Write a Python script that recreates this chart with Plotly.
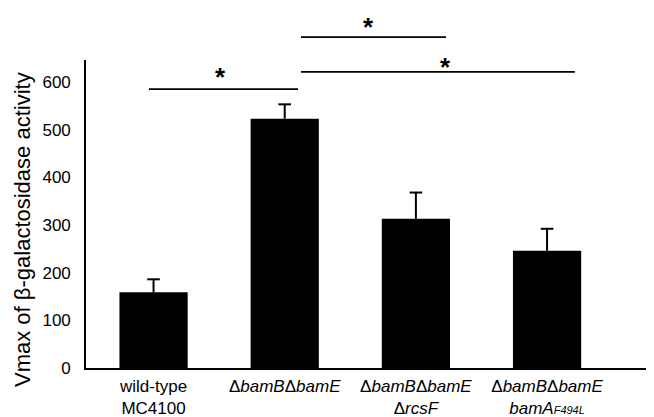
import plotly.graph_objects as go

# ---- data ----
categories = ["wild-type<br>MC4100",
              "Δ<i>bamB</i>Δ<i>bamE</i>",
              "Δ<i>bamB</i>Δ<i>bamE</i><br>Δ<i>rcsF</i>",
              "Δ<i>bamB</i>Δ<i>bamE</i><br><i>bamA<span style='font-size:11px'>F494L</span></i>"]
values = [159, 523, 313, 246]
errors = [27, 30, 55, 46]
y_ticks = [0, 100, 200, 300, 400, 500, 600]

# significance brackets (category positions and values)
sig_start = [-0.035, 1.124, 1.124]
sig_end = [1.101, 2.229, 3.212]
sig_level = [585, 694, 621]
star_x = [0.514, 1.642, 2.229]
star_y = [623, 727, 643]

X_RANGE = [-0.515, 3.80]
Y_RANGE = [0, 646]


def xp(c):
    return (c - X_RANGE[0]) / (X_RANGE[1] - X_RANGE[0])


def yp(v):
    return (v - Y_RANGE[0]) / (Y_RANGE[1] - Y_RANGE[0])


FONT = "Liberation Sans, Arial, sans-serif"
xs = list(range(len(categories)))

fig = go.Figure()
# bars with the upper error stem only
fig.add_trace(go.Bar(
    x=xs,
    y=values,
    width=0.52,
    marker=dict(color="black", line=dict(width=0)),
    error_y=dict(type="data", array=errors, arrayminus=[0] * len(errors),
                 symmetric=False, color="black", thickness=2, width=0),
))
# caps at the top of the error bars
fig.add_trace(go.Scatter(
    x=xs,
    y=[v + e for v, e in zip(values, errors)],
    mode="markers",
    marker=dict(symbol="line-ew", size=9, color="black",
                line=dict(color="black", width=2)),
    hoverinfo="skip",
))

shapes = []
for s, e, lv in zip(sig_start, sig_end, sig_level):
    shapes.append(dict(type="line", xref="paper", yref="paper",
                       x0=xp(s), x1=xp(e), y0=yp(lv), y1=yp(lv),
                       line=dict(color="black", width=1.6)))

annotations = []
for sx, sy in zip(star_x, star_y):
    annotations.append(dict(xref="paper", yref="paper", x=xp(sx), y=yp(sy),
                            text="<b>*</b>", showarrow=False, yshift=-6,
                            xanchor="center", yanchor="middle",
                            font=dict(family=FONT, size=26, color="black")))

annotations.append(dict(xref="paper", yref="paper", x=(22 - 86) / 566, y=(368 - 230) / 308,
                        text="Vmax of β-galactosidase activity", textangle=-90,
                        showarrow=False, xanchor="center", yanchor="middle",
                        font=dict(family=FONT, size=22, color="black")))

# the page body has an 8px margin, so the figure is sized to fit the 654x417 window
fig.update_layout(
    width=646, height=409,
    margin=dict(l=78, r=2, t=52, b=49, autoexpand=False),
    paper_bgcolor="white", plot_bgcolor="white",
    showlegend=False,
    font=dict(family=FONT, color="black"),
    shapes=shapes,
    annotations=annotations,
    xaxis=dict(range=X_RANGE, tickmode="array", tickvals=xs,
               ticktext=categories, showline=True, linecolor="black", linewidth=1.6,
               showgrid=False, zeroline=False, ticks="", ticklabelstandoff=2,
               tickfont=dict(family=FONT, size=17, color="black")),
    yaxis=dict(range=Y_RANGE, tickmode="array", tickvals=y_ticks,
               showline=True, linecolor="black", linewidth=1.6,
               showgrid=False, zeroline=False, ticks="", ticklabelstandoff=10,
               tickfont=dict(family=FONT, size=17, color="black")),
)

fig.write_html("out.html")
